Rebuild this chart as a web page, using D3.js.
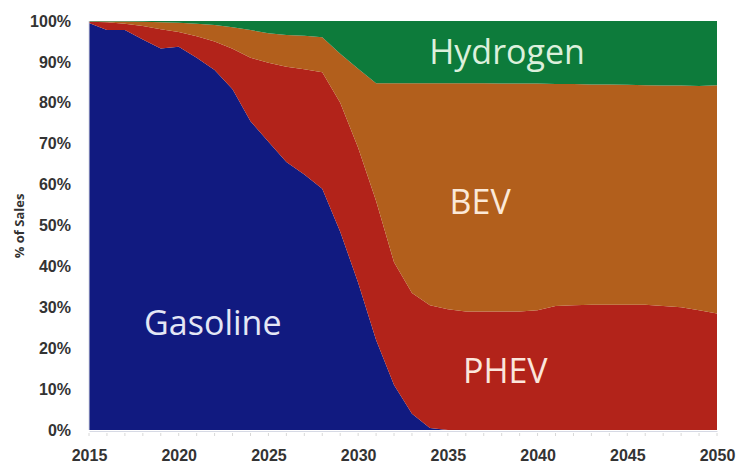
<!DOCTYPE html>
<html>
<head>
<meta charset="utf-8">
<script src="https://cdn.jsdelivr.net/npm/d3@7"></script>
<style>
  body { margin: 0; background: #fff; }
  svg { display: block; font-family: "Open Sans", sans-serif; }
  .tick text { font-weight: bold; fill: #333; }
</style>
</head>
<body>
<div id="chart"></div>
<script>
const width = 736, height = 469;

// share of new vehicle sales, %
const years = d3.range(2015, 2051);
const gasoline = [99.5, 97.8, 97.8, 95.5, 93.3, 93.7, 91.0, 88.0, 83.3, 75.5, 70.5, 65.5, 62.5, 59.0, 48.5, 36.0, 22.0, 11.0, 4.0, 0.5,
  0, 0, 0, 0, 0, 0, 0, 0, 0, 0, 0, 0, 0, 0, 0, 0];
const phev = [0.3, 1.9, 1.5, 3.3, 4.7, 3.6, 5.3, 7.0, 9.9, 15.5, 19.3, 23.3, 25.7, 28.5, 31.5, 33.0, 34.0, 30.0, 29.5, 30.0,
  29.5, 29.0, 29.0, 29.0, 29.0, 29.3, 30.3, 30.5, 30.6, 30.6, 30.6, 30.6, 30.3, 30.0, 29.3, 28.5];
const bev = [0.1, 0.2, 0.6, 1.0, 1.7, 2.3, 3.0, 4.0, 5.3, 6.8, 7.2, 7.8, 8.2, 8.5, 12.0, 19.3, 28.8, 43.8, 51.3, 54.3,
  55.3, 55.8, 55.8, 55.7, 55.7, 55.4, 54.3, 54.1, 53.9, 53.9, 53.8, 53.7, 53.9, 54.2, 54.8, 55.8];
const hydrogen = years.map((yr, i) => +(100 - gasoline[i] - phev[i] - bev[i]).toFixed(2));

const keys = ["Gasoline", "PHEV", "BEV", "Hydrogen"];
const colors = ["#111a80", "#b2231a", "#b25f1c", "#0d7b3b"];
const labelColors = ["#e4e7f5", "#fbe6dc", "#fbe9d8", "#dcf0dc"];
// label anchor: [year, percent]
const labelPos = [[2021.9, 23.2], [2038.2, 11.6], [2036.8, 52.8], [2038.3, 89.6]];

const table = years.map((yr, i) => ({
  year: yr, Gasoline: gasoline[i], PHEV: phev[i], BEV: bev[i], Hydrogen: hydrogen[i]
}));

const svg = d3.select("#chart").append("svg")
  .attr("width", width)
  .attr("height", height);

const x = d3.scaleLinear().domain([2015, 2050]).range([89, 717]);
const y = d3.scaleLinear().domain([0, 100]).range([430, 21]);

const series = d3.stack().keys(keys)(table);

const area = d3.area()
  .x((d) => x(d.data.year))
  .y0((d) => y(d[0]))
  .y1((d) => y(d[1]));

svg.append("g").selectAll("path")
  .data(series)
  .join("path")
  .attr("fill", (d, i) => colors[i])
  .attr("d", area);

// axes
const yAxis = svg.append("g")
  .attr("transform", "translate(71,0)")
  .call(d3.axisLeft(y).tickValues(d3.range(0, 101, 10)).tickFormat((d) => d + "%").tickSize(0).tickPadding(0));
yAxis.select(".domain").remove();
yAxis.selectAll("text").attr("font-size", 16);

const xAxis = svg.append("g")
  .attr("transform", "translate(0,431)")
  .call(d3.axisBottom(x).tickValues(d3.range(2015, 2051, 5)).tickFormat(d3.format("d")).tickSize(0).tickPadding(19));
xAxis.select(".domain").attr("stroke", "#d6d9e4");
xAxis.selectAll("text").attr("font-size", 16);

// minor year ticks
svg.append("g").selectAll("line")
  .data(years)
  .join("line")
  .attr("x1", (d) => x(d)).attr("x2", (d) => x(d))
  .attr("y1", 433).attr("y2", 436)
  .attr("stroke", "#d8d8d8");

svg.append("line")
  .attr("x1", x(2015)).attr("x2", x(2015))
  .attr("y1", y(100)).attr("y2", y(0))
  .attr("stroke", "#d6d9e4");

// y axis title
svg.append("text")
  .attr("transform", "translate(24,226) rotate(-90)")
  .attr("text-anchor", "middle")
  .attr("font-size", 13)
  .attr("font-weight", "bold")
  .attr("fill", "#333")
  .text("% of Sales");

// series labels
svg.append("g").selectAll("text")
  .data(keys)
  .join("text")
  .attr("x", (d, i) => x(labelPos[i][0]))
  .attr("y", (d, i) => y(labelPos[i][1]))
  .attr("text-anchor", "middle")
  .attr("font-size", 34)
  .attr("fill", (d, i) => labelColors[i])
  .text((d) => d);
</script>
</body>
</html>
